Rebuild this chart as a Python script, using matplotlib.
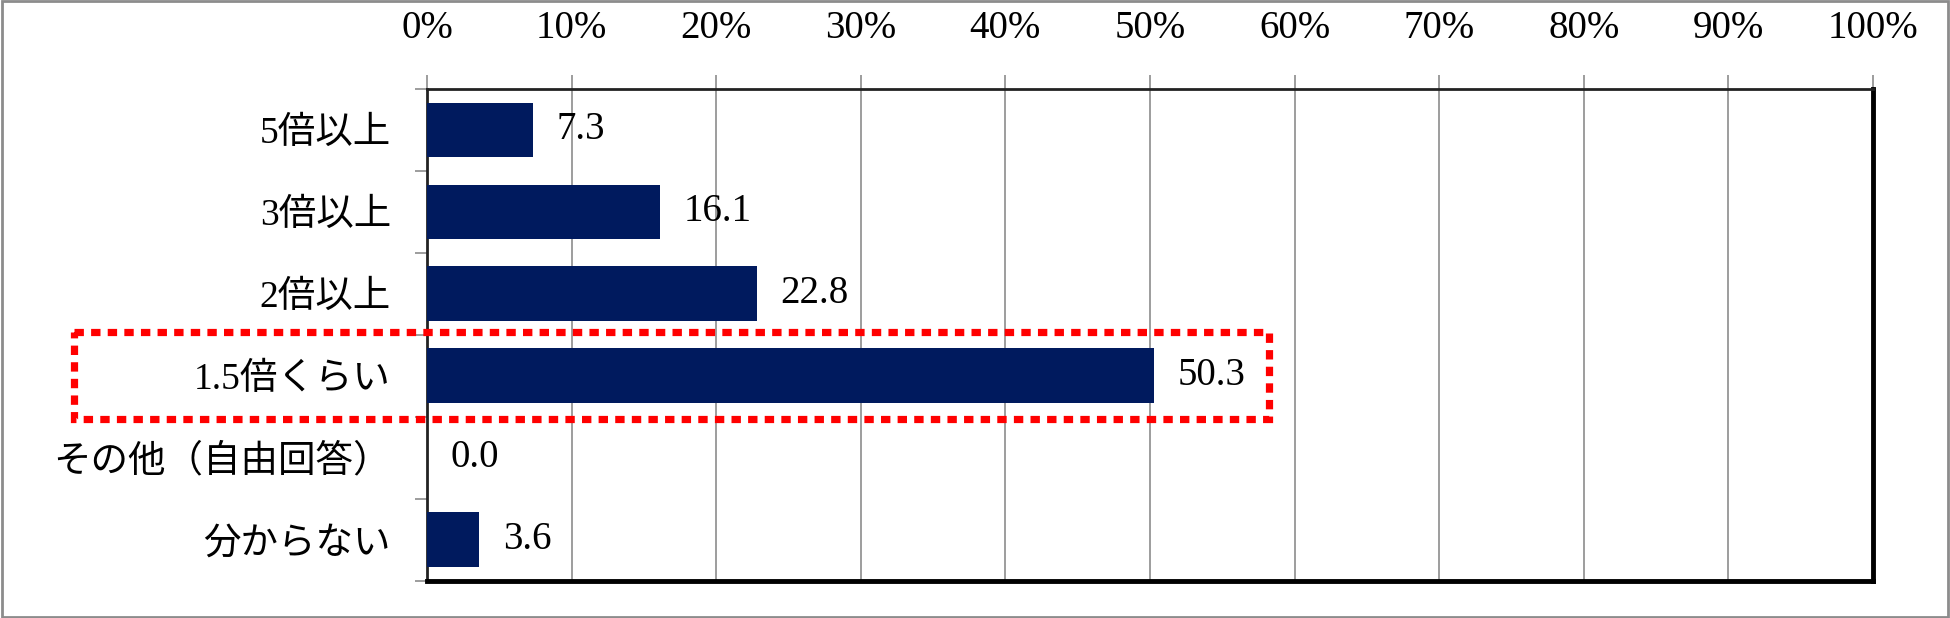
import matplotlib.pyplot as plt
import matplotlib.patches as mpatches
import numpy as np

# data
categories = ['5倍以上', '3倍以上', '2倍以上', '1.5倍くらい', 'その他（自由回答）', '分からない']
values = [7.3, 16.1, 22.8, 50.3, 0.0, 3.6]
xticks = [0, 10, 20, 30, 40, 50, 60, 70, 80, 90, 100]
xtick_labels = ['%d%%' % t for t in xticks]
highlight = '1.5倍くらい'

plt.rcParams['font.family'] = ['Liberation Serif', 'Noto Sans CJK JP']

bar_color = '#001a5e'
grid_color = '#8c8c8c'

fig = plt.figure(figsize=(19.5, 6.18), dpi=100)
ax = fig.add_axes([0.219, 0.060, 0.7415, 0.796])

y = np.arange(len(categories))
ax.barh(y, values, height=0.67, color=bar_color, zorder=3)

# value labels
for yi, v in zip(y, values):
    ax.annotate('%.1f' % v, (v, yi), xytext=(17, 0), textcoords='offset points',
                va='center', ha='left', fontsize=28)

ax.set_xlim(0, 100)
ax.set_ylim(len(categories) - 0.5, -0.5)

# x axis on top
ax.xaxis.tick_top()
ax.set_xticks(xticks)
ax.set_xticklabels(xtick_labels)
ax.tick_params(axis='x', which='major', labelsize=28, length=10, width=1.2,
               color=grid_color, pad=20)
ax.grid(axis='x', color=grid_color, linewidth=1.2, zorder=0)

# y ticks at category boundaries, labels at centers
ax.set_yticks(np.arange(-0.5, len(categories), 1.0))
ax.set_yticklabels([])
ax.set_yticks(y, minor=True)
ax.set_yticklabels(categories, minor=True)
ax.tick_params(axis='y', which='major', length=9, width=1.2, color=grid_color)
ax.tick_params(axis='y', which='minor', length=0, labelsize=27, pad=26)

for side in ['top', 'left']:
    ax.spines[side].set_linewidth(2)
    ax.spines[side].set_color('#222222')
for side in ['right', 'bottom']:
    ax.spines[side].set_linewidth(3.5)
    ax.spines[side].set_color('black')

# red dotted highlight box
hi = categories.index(highlight)
box = mpatches.Rectangle((-24.4, hi - 0.53), 24.4 + 58.2, 1.06,
                         transform=ax.transData, fill=False, edgecolor='#ff0000',
                         linewidth=5.2, linestyle=(0, (1.3, 1.0)), clip_on=False,
                         zorder=5)
box.set_capstyle('butt')
ax.add_patch(box)

# outer border of the figure
fig.patches.append(mpatches.Rectangle((0.001, 0.002), 0.998, 0.996, transform=fig.transFigure,
                                      fill=False, edgecolor='#8c8c8c', linewidth=2))

plt.savefig('out.png', dpi=100)
